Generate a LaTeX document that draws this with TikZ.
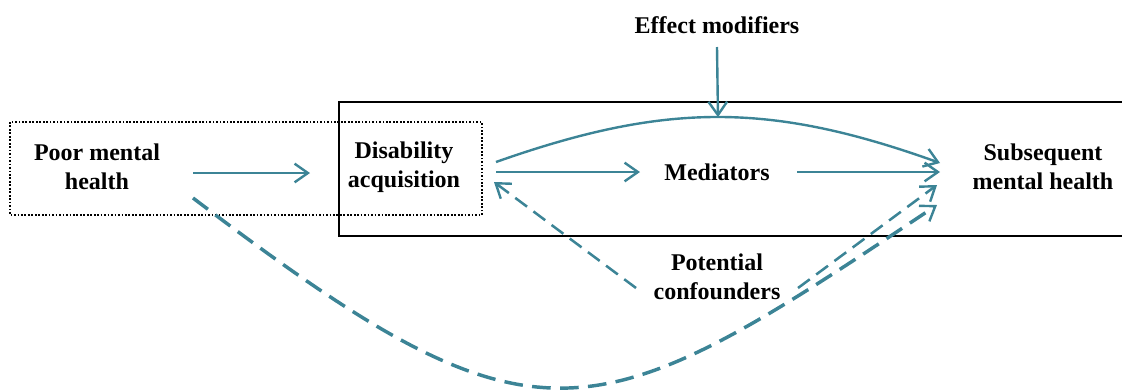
\documentclass[tikz,border=0pt]{standalone}
\usepackage{fontspec}
\setmainfont{Liberation Serif}
\usetikzlibrary{arrows.meta}
\definecolor{teal}{RGB}{60,132,150}
\tikzset{
  lbl/.style={font=\bfseries\fontsize{18pt}{22pt}\selectfont, align=center, inner sep=0pt},
  link/.style={draw=teal, line width=1.8pt, -{Straight Barb[length=10pt,width=14pt,line width=1.8pt]}},
  dlink/.style={link, dash pattern=on 11pt off 6pt},
  frame/.style={draw=black, line width=1.5pt},
  dotframe/.style={draw=black, line width=1.4pt, dash pattern=on 1.3pt off 1.3pt},
}
\begin{document}
\begin{tikzpicture}[x=0.75pt, y=-0.75pt]
\useasboundingbox (0,0) rectangle (1122,390);

% frames
\draw[frame] (1122,102) -| (339,236) -- (1122,236);
\draw[dotframe] (10,122) rectangle (482,215);

% labels
\node[lbl] (poor) at (97,167) {Poor mental\\health};
\node[lbl] (dis)  at (404,167) {Disability\\acquisition};
\node[lbl] (med)  at (717,172) {Mediators};
\node[lbl] (subs) at (1043,167) {Subsequent\\mental health};
\node[lbl] (eff)  at (717,25) {Effect modifiers};
\node[lbl] (conf) at (717,277) {Potential\\confounders};

% main pathway
\draw[link] ([shift={(96,6)}]poor.center) -- ([shift={(-94,6)}]dis.center);
\draw[link] ([shift={(92,5)}]dis.center) -- ([shift={(-77,0)}]med.center);
\draw[link] ([shift={(80,0)}]med.center) -- ([shift={(-103,5)}]subs.center);

% direct effect arc with its modifier
\draw[link] ([shift={(92,-5)}]dis.center)
  .. controls (666,102) and (770,102) .. coordinate[pos=0.5] (peak)
  ([shift={(-103,-4)}]subs.center);
\draw[link] ([shift={(0,22)}]eff.center) -- (peak);

% confounding paths
\draw[dlink, line width=1.9pt] ([shift={(-81,11)}]conf.center) -- ([shift={(90,15)}]dis.center);
\draw[dlink, line width=1.9pt] ([shift={(81,11)}]conf.center) -- ([shift={(-106,18)}]subs.center);

% reverse pathway from poor mental health
\draw[dlink, line width=2.6pt, dash pattern=on 14pt off 7pt] ([shift={(96,31)}]poor.center)
  .. controls (541,462) and (589,438) .. ([shift={(-106,38)}]subs.center);
\end{tikzpicture}
\end{document}
